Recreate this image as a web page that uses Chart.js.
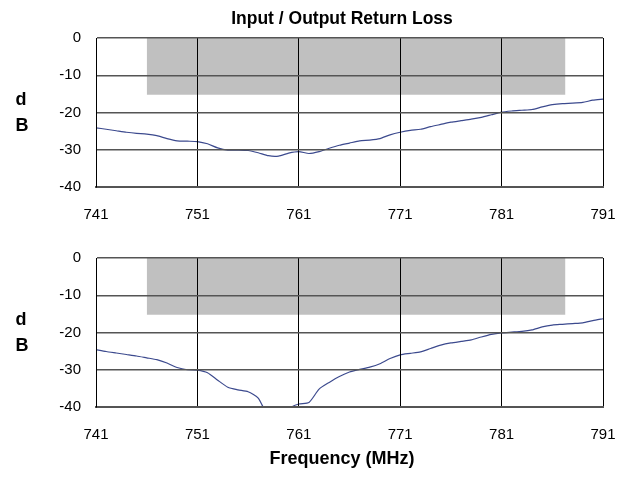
<!DOCTYPE html>
<html><head><meta charset="utf-8">
<script src="https://cdn.jsdelivr.net/npm/chart.js@4.4.1/dist/chart.umd.min.js"></script>
<style>
html,body{margin:0;padding:0;background:#fff;}
#wrap{position:relative;width:626px;height:483px;overflow:hidden;background:#fff;}
canvas{position:absolute;left:0;}
#c1{top:0;} #c2{top:230px;}
.yl{position:absolute;font:bold 18px 'Liberation Sans',Arial,sans-serif;width:20px;text-align:center;color:#000;line-height:20px;}
</style></head><body>
<div id="wrap">
<canvas id="c1" width="643" height="230"></canvas>
<canvas id="c2" width="643" height="253"></canvas>
<div class="yl" style="left:11px;top:89px">d</div>
<div class="yl" style="left:12px;top:115px">B</div>
<div class="yl" style="left:11px;top:309px">d</div>
<div class="yl" style="left:12px;top:335px">B</div>
</div>
<script>
// ---- data ----
const X_TICKS = [741, 751, 761, 771, 781, 791];
const Y_TICKS = [0, -10, -20, -30, -40];
const BAND_FREQS = [746, 787.3];
const BAND_LIMIT = -15.25;
const BAND_TOP = 0;
const FREQS = [741,742,743,744,745,746,747,748,749,750,751,752,753,754,755,756,757,758,759,760,
  761,762,763,764,765,766,767,768,769,770,771,772,773,774,775,776,777,778,779,780,
  781,782,783,784,785,786,787,788,789,790,791];
const INPUT_RL = [-24.1,-24.5,-24.9,-25.3,-25.6,-25.8,-26.2,-27.0,-27.6,-27.7,-27.8,-28.4,-29.5,-30.1,-30.1,-30.2,-30.8,-31.6,-31.7,-30.9,
  -30.5,-31.0,-30.5,-29.6,-28.8,-28.2,-27.6,-27.4,-27.0,-26.0,-25.3,-24.8,-24.5,-23.8,-23.2,-22.6,-22.2,-21.8,-21.3,-20.6,
  -19.9,-19.6,-19.4,-19.2,-18.5,-17.9,-17.6,-17.5,-17.3,-16.7,-16.4];
const OUTPUT_RL = [-24.6,-25.1,-25.5,-25.9,-26.3,-26.8,-27.3,-28.2,-29.4,-30.0,-30.1,-30.8,-32.8,-34.7,-35.4,-35.9,-37.6,-42.5,-42.5,-40.4,
  -39.2,-38.8,-35.2,-33.4,-31.8,-30.6,-29.9,-29.3,-28.4,-27.0,-26.0,-25.6,-25.2,-24.3,-23.4,-22.8,-22.4,-22.0,-21.2,-20.5,
  -20.1,-19.9,-19.7,-19.3,-18.5,-18.0,-17.8,-17.6,-17.4,-16.8,-16.3];

const FONT = "'Liberation Sans',Arial,sans-serif";
const LINE_COLOR = '#3c4a8e';
const BAND_COLOR = '#c0c0c0';

function buildConfig(freqs, vals, title, topPad, xHeight) {
  return {
    type: 'line',
    data: { datasets: [
      { data: BAND_FREQS.map(f => ({x: f, y: BAND_LIMIT})), fill: {value: BAND_TOP},
        backgroundColor: BAND_COLOR, borderColor: BAND_COLOR, borderWidth: 0, pointRadius: 0, order: 2 },
      { data: freqs.map((f, i) => ({x: f, y: vals[i]})), borderColor: LINE_COLOR, borderWidth: 1.2,
        pointRadius: 0, fill: false, tension: 0.2, order: 1 }
    ]},
    options: {
      responsive: false, animation: false, events: [],
      layout: { padding: { left: 41, right: 0, top: topPad, bottom: 0 } },
      plugins: { legend: { display: false }, tooltip: { enabled: false }, title: title },
      scales: {
        x: {
          type: 'linear', min: X_TICKS[0], max: X_TICKS[X_TICKS.length - 1],
          afterBuildTicks: s => { s.ticks = X_TICKS.map(v => ({ value: v })); },
          afterFit: s => { s.height = xHeight; },
          ticks: { padding: 2, color: '#000', font: { family: FONT, size: 15 }, maxRotation: 0, autoSkip: false },
          grid: { color: '#000', lineWidth: 1, drawTicks: true, tickLength: 17, tickColor: 'rgba(0,0,0,0)', z: 1 },
          border: { display: true, color: '#555', width: 2, z: 1 }
        },
        y: {
          min: Y_TICKS[Y_TICKS.length - 1], max: Y_TICKS[0],
          afterBuildTicks: s => { s.ticks = Y_TICKS.map(v => ({ value: v })); },
          afterFit: s => { s.width = 55; },
          ticks: { padding: 15, color: '#000', font: { family: FONT, size: 15 } },
          grid: { color: '#555', lineWidth: 1.5, drawTicks: false, z: 1 },
          border: { display: true, color: '#000', width: 1, z: 1 }
        },
        yRight: {
          position: 'right', min: -40, max: 0,
          afterFit: s => { s.width = 40; },
          ticks: { display: false }, grid: { display: false }, border: { display: false }
        }
      }
    }
  };
}

new Chart(document.getElementById('c1'), buildConfig(FREQS, INPUT_RL,
  { display: true, position: 'top', text: 'Input / Output Return Loss', color: '#000',
    font: { family: FONT, size: 17.5, weight: 'bold' }, padding: { top: 8.5, bottom: 8.5 } },
  0, 43));
new Chart(document.getElementById('c2'), buildConfig(FREQS, OUTPUT_RL,
  { display: true, position: 'bottom', text: 'Frequency (MHz)', color: '#000',
    font: { family: FONT, size: 18, weight: 'bold' }, padding: { top: 2, bottom: 13.2 } },
  28, 39.2));
</script>
</body></html>
